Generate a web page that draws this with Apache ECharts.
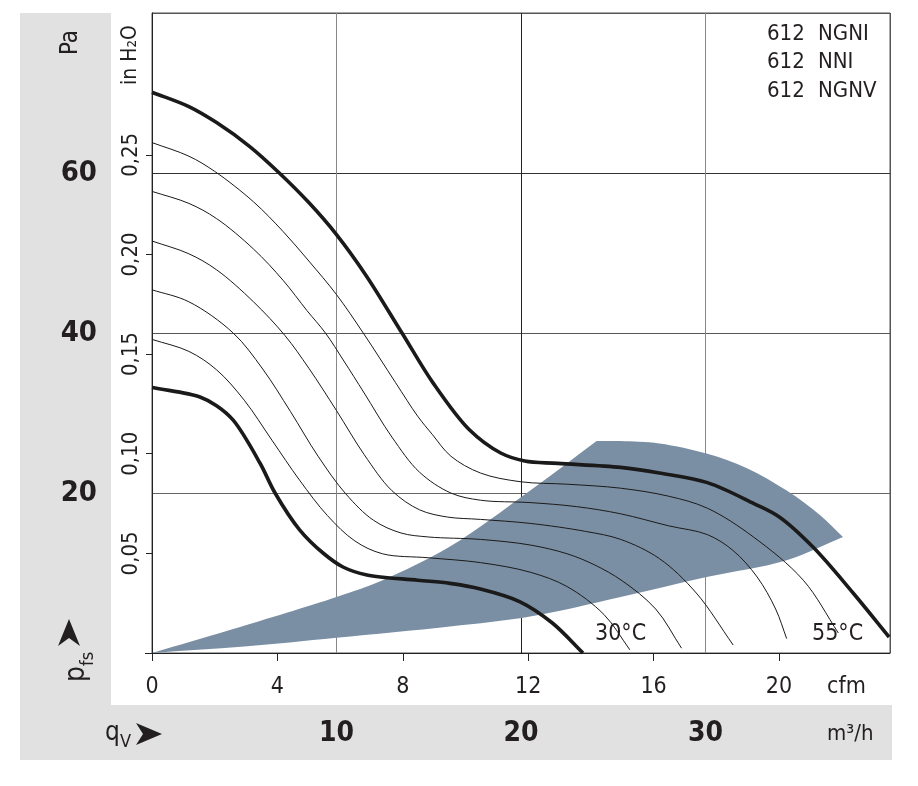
<!DOCTYPE html>
<html>
<head>
<meta charset="utf-8">
<script src="https://cdn.jsdelivr.net/npm/echarts@6/dist/echarts.min.js"></script>
<style>
  html, body { margin: 0; padding: 0; background: #fff; }
  #chart { width: 918px; height: 786px; }
</style>
</head>
<body>
<div id="chart"></div>
<script>
// x = air flow in m³/h, y = static pressure in Pa
const curveTop = [[0,70.1],[2,68.3],[3.5,66.3],[5.3,63.3],[6.9,60.0],[8.5,56.3],[10,52.3],[11.6,47.2],[13.55,40],[15.25,33.7],[17.2,27.9],[18.9,25.0],[20.2,24.0],[22,23.7],[25.4,23.2],[27.5,22.5],[30.1,21.3],[32.6,18.7],[34,17.0],[35.8,13.3],[38,7.5],[39.95,2.0]];
const curve2 = [[0,63.8],[2,62.1],[3.4,60.2],[5.5,56.4],[7.1,52.7],[8.5,49.0],[10,44.8],[11.45,40],[13.2,33.8],[14.4,29.6],[15.2,27.3],[16.2,24.6],[17.8,22.5],[20,21.4],[22.5,21.1],[25.4,20.6],[28,19.6],[30.1,18.1],[32.6,14.5],[35.3,9.1],[37.2,2.5]];
const curve3 = [[0,57.7],[2,56.2],[3.5,54.3],[5.5,50.5],[7.1,46.6],[8.4,42.8],[9.4,40],[10.4,36.5],[11.5,32.5],[13,27],[14.5,22.6],[16.2,20.0],[17.8,19.1],[20.5,18.8],[23,18.3],[25.4,17.4],[28,15.9],[30.1,14.8],[31.5,12.8],[32.8,9.5],[33.8,5.5],[34.4,1.8]];
const curve4 = [[0,51.5],[2,49.9],[3.5,47.9],[5.5,43.9],[7.2,39.7],[8.5,35.6],[10,30.3],[11.5,24.8],[13,20.3],[14.5,17.9],[16,17.0],[17.8,16.7],[20.5,16.2],[23.5,15.2],[25.4,14.2],[27.5,11.8],[29.5,7.5],[31.5,1.0]];
const curve5 = [[0,45.4],[2,43.9],[4.4,40],[6,35.5],[7.5,30.2],[9,24.6],[10.5,19.9],[12,16.6],[13.5,15.0],[15,14.5],[17.8,14.2],[20.5,13.5],[22.5,12.4],[24,11.0],[25.5,9.0],[27.3,5.5],[28.7,0.6]];
const curve6 = [[0,39.2],[2,37.7],[3.5,35.4],[5,31.6],[6.5,26.6],[8,21.6],[9.5,17.2],[11,14.0],[12.5,12.4],[15,11.9],[17.8,11.3],[20.5,10.1],[22.5,8.3],[24.5,4.8],[25.9,0.4]];
const curveBottom = [[0,33.2],[2.6,32.0],[3.5,30.9],[4.4,29.1],[5.85,23.75],[6.67,20],[8,15.4],[9.27,12.5],[10.35,10.75],[11.65,9.75],[14.4,9.1],[16.15,8.7],[17.8,8.0],[19.95,6.4],[21.7,3.75],[23.36,0]];

// operating range (shaded), three edges
const shadeUpper = [[0,0],[4.4,3.0],[10,7.0],[12.5,9.1],[16.15,13.3],[20.5,20.3],[24.1,26.5]];
const shadeTop = [[24.1,26.5],[25.4,26.5],[27.5,26.2],[30.1,24.9],[32.25,23.1],[34.4,20.3],[36.2,17.25],[37.45,14.5]];
const shadeLower = [[37.45,14.5],[34.4,11.6],[30.06,9.5],[25.4,7.0],[20.5,4.55],[16.15,3.3],[10,1.9],[5,0.8],[0,0]];

const m3hTicks = [10, 20, 30];
const cfmTicks = [0, 4, 8, 12, 16, 20];
const paTicks = [20, 40, 60];
const inH2OTicks = [0.05, 0.10, 0.15, 0.20, 0.25];
const models = ['NGNI', 'NNI', 'NGNV'];

const M3H_MAX = 40;
const PA_MAX = 80;
const M3H_PER_CFM = 1.699;
const PA_PER_INH2O = 249.09;

const FONT = "'Liberation Sans Narrow', 'DejaVu Sans Condensed', Roboto, sans-serif";
const INK = '#231f20';
const GREY = '#e1e1e1';

function dist(a, b) {
  return Math.sqrt((a[0] - b[0]) * (a[0] - b[0]) + (a[1] - b[1]) * (a[1] - b[1]));
}

// centripetal catmull-rom through pixel points, as svg path commands
function splinePath(pts, moveTo) {
  let d = moveTo ? 'M' + pts[0][0] + ',' + pts[0][1] : '';
  for (let i = 0; i < pts.length - 1; i++) {
    const p0 = pts[i - 1] || pts[i], p1 = pts[i], p2 = pts[i + 1], p3 = pts[i + 2] || pts[i + 1];
    const d1 = Math.sqrt(dist(p0, p1)), d2 = Math.sqrt(dist(p1, p2)), d3 = Math.sqrt(dist(p2, p3));
    let c1, c2;
    if (d1 > 1e-6) {
      c1 = [0, 1].map(function (k) {
        return (d1 * d1 * p2[k] - d2 * d2 * p0[k] + (2 * d1 * d1 + 3 * d1 * d2 + d2 * d2) * p1[k]) / (3 * d1 * (d1 + d2));
      });
    } else {
      c1 = [0, 1].map(function (k) { return p1[k] + (p2[k] - p1[k]) / 3; });
    }
    if (d3 > 1e-6) {
      c2 = [0, 1].map(function (k) {
        return (d3 * d3 * p1[k] - d2 * d2 * p3[k] + (2 * d3 * d3 + 3 * d3 * d2 + d2 * d2) * p2[k]) / (3 * d3 * (d3 + d2));
      });
    } else {
      c2 = [0, 1].map(function (k) { return p2[k] + (p1[k] - p2[k]) / 3; });
    }
    d += ' C' + c1[0] + ',' + c1[1] + ' ' + c2[0] + ',' + c2[1] + ' ' + p2[0] + ',' + p2[1];
  }
  return d;
}

function curve(points, thick) {
  return {
    type: 'custom',
    silent: true,
    z: 3,
    data: [[0, 0]],
    renderItem: function (params, api) {
      const px = points.map(function (p) { return api.coord(p); });
      return {
        type: 'path',
        shape: { pathData: splinePath(px, true) },
        style: { fill: 'none', stroke: '#1a1a1a', lineWidth: thick ? 3.6 : 1, lineJoin: 'round' },
      };
    },
  };
}

function label(text, x, y, size, extra) {
  return {
    type: 'text', x: x, y: y, silent: true, rotation: (extra && extra.rotation) || 0,
    style: {
      text: text, fontFamily: FONT, fontSize: size, fill: INK,
      align: (extra && extra.align) || 'left', verticalAlign: 'middle',
    },
  };
}

const graphics = [
  { type: 'rect', silent: true, z: -10, shape: { x: 20, y: 13, width: 91, height: 747 }, style: { fill: GREY } },
  { type: 'rect', silent: true, z: -10, shape: { x: 20, y: 705, width: 872, height: 55 }, style: { fill: GREY } },
  label('Pa', 70.5, 42.5, 24, { rotation: Math.PI / 2, align: 'center' }),
  label('in H₂O', 131, 55, 21, { rotation: Math.PI / 2, align: 'center' }),
  {
    type: 'text', x: 77, y: 667, rotation: Math.PI / 2, silent: true,
    style: {
      text: '{p|p}{s|fs}', align: 'center', verticalAlign: 'middle',
      rich: {
        p: { fontFamily: FONT, fontSize: 28, fill: INK, verticalAlign: 'bottom' },
        s: { fontFamily: FONT, fontSize: 18, fill: INK, verticalAlign: 'bottom', padding: [0, 0, -6, 0] },
      },
    },
  },
  { type: 'polygon', silent: true, shape: { points: [[69, 619], [80, 646], [69, 638], [58, 646]] }, style: { fill: INK } },
  {
    type: 'text', x: 118, y: 733, silent: true,
    style: {
      text: '{q|q}{s|V}', align: 'center', verticalAlign: 'middle',
      rich: {
        q: { fontFamily: FONT, fontSize: 26, fill: INK, verticalAlign: 'bottom' },
        s: { fontFamily: FONT, fontSize: 18, fill: INK, verticalAlign: 'bottom', padding: [0, 0, -5, 0] },
      },
    },
  },
  { type: 'polygon', silent: true, shape: { points: [[136, 723], [162, 734], [136, 745], [143, 734]] }, style: { fill: INK } },
  // bottom axis line runs a little past the origin
  { type: 'line', silent: true, shape: { x1: 145, y1: 653.5, x2: 152, y2: 653.5 }, style: { stroke: '#222', lineWidth: 1 } },
  label('cfm', 827, 687.5, 23),
  label('m³/h', 827, 734, 22),
  label('30°C', 595, 634, 23),
  label('55°C', 812, 634, 23),
];
models.forEach(function (name, i) {
  const y = [34.5, 62.5, 91][i];
  graphics.push(label('612', 767, y, 22));
  graphics.push(label(name, 818, y, 22));
});

const option = {
  animation: false,
  backgroundColor: '#fff',
  grid: { left: 152, top: 13, right: 28, bottom: 133, show: true, borderColor: '#555', borderWidth: 1 },
  xAxis: [
    {
      type: 'value', min: 0, max: M3H_MAX, interval: 10,
      axisLine: { show: false }, axisTick: { show: false },
      splitLine: { show: true, lineStyle: { color: ['#555', '#888', '#222', '#888', '#555'], width: 1 } },
      axisLabel: { customValues: m3hTicks, margin: 67, fontFamily: FONT, fontSize: 28, fontWeight: 'bold', color: INK },
    },
    {
      type: 'value', min: 0, max: M3H_MAX / M3H_PER_CFM, position: 'bottom',
      axisLine: { show: true, lineStyle: { color: '#222', width: 1 } },
      axisTick: { show: true, customValues: cfmTicks, length: 8, lineStyle: { color: '#222' } },
      splitLine: { show: false },
      axisLabel: { customValues: cfmTicks, margin: 23, fontFamily: FONT, fontSize: 23, color: INK },
    },
  ],
  yAxis: [
    {
      type: 'value', min: 0, max: PA_MAX, interval: 20,
      axisLine: { show: false }, axisTick: { show: false },
      splitLine: { show: true, lineStyle: { color: ['#555', '#666', '#555', '#333', '#555'], width: 1 } },
      axisLabel: { customValues: paTicks, margin: 55, fontFamily: FONT, fontSize: 29, fontWeight: 'bold', color: INK },
    },
    {
      type: 'value', min: 0, max: PA_MAX / PA_PER_INH2O, position: 'left',
      axisLine: { show: true, lineStyle: { color: '#222', width: 1 } },
      axisTick: { show: true, customValues: inH2OTicks, length: 6, lineStyle: { color: '#222' } },
      splitLine: { show: false },
      axisLabel: {
        customValues: inH2OTicks, rotate: 90, margin: 10,
        fontFamily: FONT, fontSize: 22, color: INK,
        formatter: function (v) { return v.toFixed(2).replace('.', ','); },
      },
    },
  ],
  graphic: graphics,
  series: [
    {
      type: 'custom',
      silent: true,
      z: 1,
      data: [[0, 0]],
      renderItem: function (params, api) {
        const edges = [shadeUpper, shadeTop, shadeLower].map(function (e) {
          return e.map(function (p) { return api.coord(p); });
        });
        let d = 'M' + edges[0][0][0] + ',' + edges[0][0][1];
        edges.forEach(function (e) { d += splinePath(e, false); });
        return { type: 'path', shape: { pathData: d + ' Z' }, style: { fill: '#7b8fa4' } };
      },
    },
    curve(curveTop, true),
    curve(curve2, false),
    curve(curve3, false),
    curve(curve4, false),
    curve(curve5, false),
    curve(curve6, false),
    curve(curveBottom, true),
  ],
};

const chart = echarts.init(document.getElementById('chart'));
chart.setOption(option);
window.addEventListener('resize', function () {
  chart.resize();
});
</script>
</body>
</html>
